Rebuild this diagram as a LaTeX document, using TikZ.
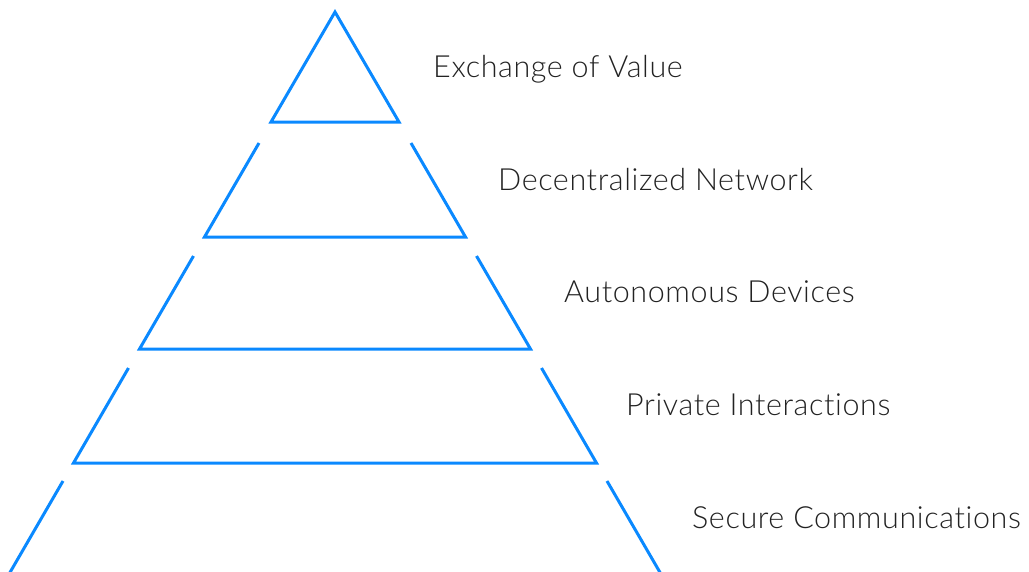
\documentclass[tikz,border=0pt]{standalone}
\usepackage{fontspec}
\setmainfont{Lato}[UprightFont={* Light}, Ligatures=NoCommon, LetterSpace=2]
\definecolor{pyrblue}{HTML}{0A89FF}
\definecolor{txtgray}{HTML}{222222}
\begin{document}
\begin{tikzpicture}[x=1pt,y=-1pt,
  layer/.style={draw=pyrblue, line width=3pt, line join=miter},
  lbl/.style={anchor=base west, inner sep=0pt, font=\fontsize{30.5}{36}\selectfont, text=txtgray}]
\useasboundingbox (0,0) rectangle (1029,571);
\clip (0,0) rectangle (1029,571);
% apex triangle
\coordinate (apex) at (335,12);
\draw[layer] (271,122) -- (apex) -- (399,122) -- cycle;
% layer 2
\draw[layer] (259,143) -- (204.5,237) -- (465.5,237) -- (411,143);
% layer 3
\draw[layer] (193.5,256) -- (139.5,349) -- (530.5,349) -- (476.5,256);
% layer 4
\draw[layer] (128.5,368) -- (73.5,463) -- (596.5,463) -- (541.5,368);
% layer 5 (cut by the frame)
\draw[layer] (63,481) -- (5.6,580);
\draw[layer] (607,481) -- (664.4,580);
% labels
\node[lbl] (l1) at (433,77) {Exchange of Value};
\node[lbl] (l2) at (498,190) {Decentralized Network};
\node[lbl] (l3) at (564,302) {Autonomous Devices};
\node[lbl] (l4) at (626,415) {Private Interactions};
\node[lbl] (l5) at (692,528) {Secure Communications};
\end{tikzpicture}
\end{document}
